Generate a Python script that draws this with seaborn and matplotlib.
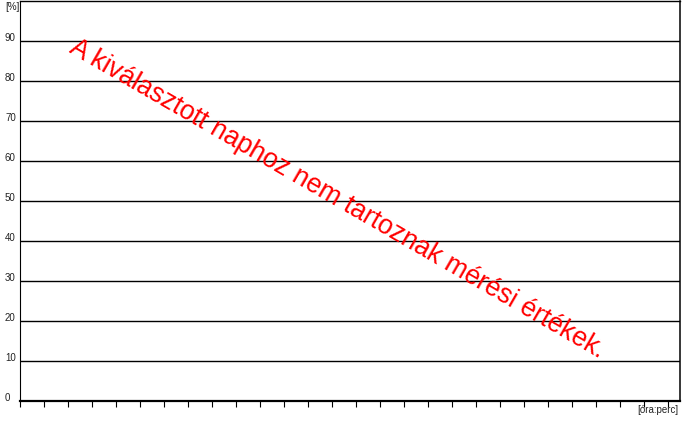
import matplotlib
matplotlib.use("Agg")
import matplotlib.pyplot as plt
import seaborn as sns
import pandas as pd

y_ticks = [0, 10, 20, 30, 40, 50, 60, 70, 80, 90]
y_tick_labels = ["0", "10", "20", "30", "40", "50", "60", "70", "80", "90"]
x_ticks = [0, 1, 2, 3, 4, 5, 6, 7, 8, 9, 10, 11, 12, 13, 14, 15, 16, 17, 18, 19,
           20, 21, 22, 23, 24, 25, 26, 27]
y_unit = "[%]"
x_unit = "[óra:perc]"
message = "A kiválasztott naphoz nem tartoznak mérési értékek."
times = []
values = []

sns.set_style("white")
plt.rcParams['font.family'] = ['Liberation Sans', 'DejaVu Sans']

fig = plt.figure(figsize=(7.0, 4.21), dpi=100)
ax = fig.add_axes([20/700, 20.3/421, 660/700, (420.3-20.3)/421])

df = pd.DataFrame({"t": pd.Series(times, dtype=float), "v": pd.Series(values, dtype=float)})
sns.lineplot(data=df, x="t", y="v", ax=ax)

ax.set_xlim(0, 27.5)
ax.set_ylim(0, 100)
ax.set_xlabel("")
ax.set_ylabel("")

ax.set_yticks(y_ticks)
ax.set_yticklabels(y_tick_labels, fontsize=7, color="#222222")
for lab in ax.get_yticklabels():
    lab.set_horizontalalignment("left")
    lab.set_verticalalignment("baseline")
ax.tick_params(axis="y", length=0, pad=10.8)

ax.set_xticks(x_ticks)
ax.set_xticklabels([])
ax.tick_params(axis="x", direction="out", length=4.3, width=0.8, color="black", bottom=True)

for y in y_ticks[1:]:
    ax.axhline(y, color="black", linewidth=1.0, zorder=1)

ax.spines["left"].set_linewidth(0.8)
ax.spines["bottom"].set_linewidth(1.6)
ax.spines["top"].set_linewidth(1.0)
ax.spines["right"].set_linewidth(1.1)
for s in ax.spines.values():
    s.set_color("black")
    s.set_visible(True)

fig.text(5/700, 1 - 10/421, y_unit, fontsize=7, color="#222222", ha="left", va="baseline")
fig.text(678/700, 1 - 405/421, x_unit, fontsize=7, color="#222222", ha="right", va="top")

ax.text(0.481, 0.505, message, transform=ax.transAxes, fontsize=19.1, color="#ff0000",
        rotation=-30.0, rotation_mode="anchor", ha="center", va="center", zorder=5)

fig.savefig("out.png", dpi=100, facecolor="white")
